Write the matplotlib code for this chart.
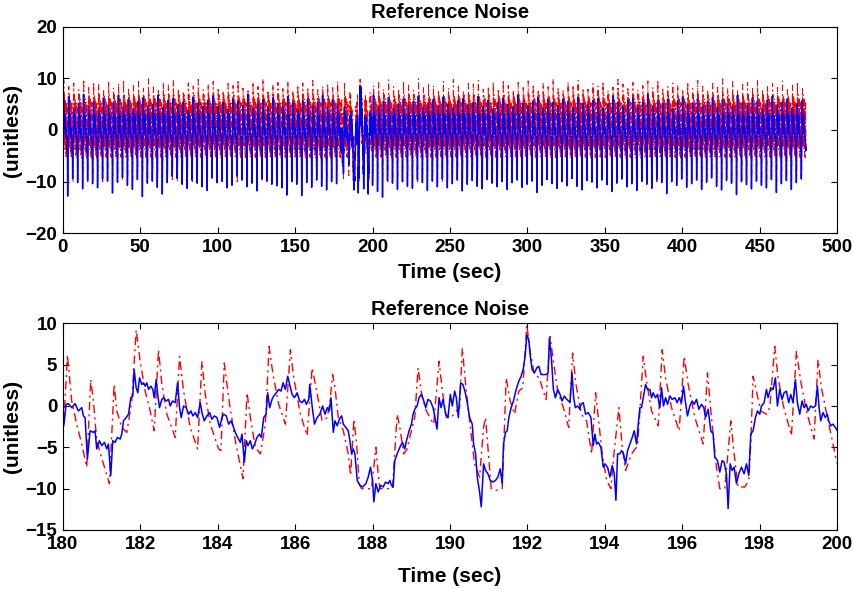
import numpy as np
import matplotlib
matplotlib.use('Agg')
import matplotlib.pyplot as plt

plt.rcParams['font.family'] = ['Liberation Sans', 'DejaVu Sans']
plt.rcParams['font.weight'] = 'bold'

# ---------------- zoomed window (180-200 s) : values ----------------
zoom_blue_t = [180.000, 180.034, 180.086, 180.147, 180.233, 180.319, 180.405, 180.491, 180.534, 180.578,
               180.638, 180.707, 180.793, 180.836, 180.879, 180.948, 181.009, 181.078, 181.138, 181.181,
               181.241, 181.293, 181.353, 181.414, 181.483, 181.526, 181.569, 181.638, 181.698, 181.759,
               181.810, 181.845, 181.897, 181.940, 181.983, 182.043, 182.086, 182.129, 182.172, 182.216,
               182.276, 182.328, 182.362, 182.414, 182.457, 182.500, 182.560, 182.603, 182.672, 182.733,
               182.776, 182.836, 182.905, 182.966, 183.017, 183.060, 183.121, 183.190, 183.250, 183.310,
               183.362, 183.422, 183.483, 183.552, 183.595, 183.655, 183.724, 183.793, 183.853, 183.914,
               183.983, 184.052, 184.112, 184.155, 184.224, 184.284, 184.345, 184.397, 184.457, 184.517,
               184.586, 184.629, 184.690, 184.741, 184.784, 184.845, 184.897, 184.957, 185.017, 185.078,
               185.129, 185.190, 185.250, 185.293, 185.345, 185.405, 185.448, 185.517, 185.578, 185.638,
               185.690, 185.750, 185.810, 185.862, 185.922, 185.983, 186.052, 186.121, 186.181, 186.241,
               186.293, 186.353, 186.379, 186.440, 186.500, 186.569, 186.638,
               186.712, 186.773, 186.833, 186.884, 186.927, 186.987, 187.030, 187.090, 187.142, 187.202,
               187.245, 187.313, 187.373, 187.416, 187.459, 187.502, 187.545, 187.605, 187.674, 187.742,
               187.828, 187.888, 187.948, 188.000, 188.034, 188.086, 188.146, 188.206, 188.275, 188.335,
               188.403, 188.446, 188.489, 188.532, 188.575, 188.635, 188.704, 188.773, 188.833, 188.876,
               188.944, 189.004, 189.047, 189.090, 189.150, 189.202, 189.262, 189.322, 189.373, 189.433,
               189.494, 189.562, 189.605, 189.665, 189.717, 189.768, 189.820, 189.888, 189.948, 190.009,
               190.060, 190.120, 190.163, 190.215, 190.275, 190.335, 190.395, 190.446, 190.506, 190.575,
               190.609, 190.661, 190.704, 190.764, 190.807, 190.867, 190.918, 190.979, 191.039, 191.107,
               191.176, 191.236, 191.296, 191.348, 191.382, 191.433, 191.476, 191.519, 191.579, 191.639,
               191.708, 191.777, 191.837, 191.897, 191.948, 191.983, 192.034, 192.069, 192.120, 192.180,
               192.240, 192.292, 192.352, 192.412, 192.481, 192.532, 192.567, 192.618, 192.670, 192.721,
               192.781, 192.841, 192.893, 192.953, 193.013, 193.064, 193.099, 193.150, 193.193, 193.236,
               193.296, 193.356,
               193.381, 193.441, 193.501, 193.570, 193.639, 193.699, 193.742, 193.785, 193.828, 193.897,
               193.957, 194.000, 194.069, 194.129, 194.189, 194.241, 194.284, 194.327, 194.378, 194.430,
               194.482, 194.533, 194.585, 194.645, 194.705, 194.757, 194.817, 194.860, 194.903, 194.946,
               194.989, 195.049, 195.101, 195.161, 195.204, 195.247, 195.307, 195.359, 195.419, 195.462,
               195.513, 195.565, 195.617, 195.677, 195.737, 195.806, 195.866, 195.917, 195.978, 196.029,
               196.081, 196.132, 196.193, 196.253, 196.304, 196.365, 196.425, 196.494, 196.554, 196.597,
               196.666, 196.734, 196.794, 196.837, 196.906, 196.966, 197.027, 197.078, 197.138, 197.181,
               197.233, 197.285, 197.336, 197.396, 197.457, 197.525, 197.594, 197.654, 197.714, 197.766,
               197.826, 197.886, 197.938, 197.998, 198.041, 198.110, 198.170, 198.213, 198.282, 198.342,
               198.402, 198.454, 198.514, 198.574, 198.626, 198.686, 198.746, 198.798, 198.858, 198.918,
               198.970, 199.030, 199.090, 199.142, 199.202, 199.245, 199.314, 199.374, 199.434, 199.486,
               199.529, 199.572, 199.632, 199.692, 199.744, 199.778, 199.830, 199.890, 199.950, 200.002]
zoom_blue_v = [0.0, -2.2, 0.2, 0.28, -0.2, 0.28, -0.6, -0.2, -1.2, -1.4,
               -6.4, -3.0, -3.2, -3.0, -5.2, -4.2, -4.8, -4.4, -5.2, -4.6,
               -8.4, -4.2, -4.4, -3.8, -4.0, -3.4, -1.8, -1.4, -1.0, 1.0,
               1.2, 4.4, 2.2, 1.6, 3.4, 2.6, 2.8, 2.4, 2.8, 2.0,
               2.4, 2.0, 1.0, 3.2, 1.2, -0.2, 0.8, 1.0, 0.6, 0.8,
               0.0, 0.6, 0.4, 2.8, -0.2, -1.4, 0.0, -0.2, -1.0, -0.6,
               -1.2, -0.8, -1.4, 0.4, -0.8, -1.8, -1.2, -0.8, -1.6, -1.2,
               -1.4, -2.6, -1.4, -1.0, -1.2, -2.2, -1.8, -2.4, -3.2, -3.8,
               -4.4, -3.4, -6.8, -4.2, -4.8, -4.2, -5.2, -4.6, -3.8, -3.4,
               -3.8, -1.4, -1.0, 1.6, -0.2, 0.8, 1.2, 1.6, 2.0, 1.8,
               2.8, 2.0, 3.6, 2.6, 1.4, 1.0, 1.6, 0.6, 0.4, 0.8,
               0.2, 0.8, 2.6, 0.0, -2.2, -1.4, -1.0,
               0.0, -1.0, -0.2, -0.6, 1.0, -3.2, -1.8, -2.4, -1.6, -1.2,
               -2.2, -2.6, -3.0, -4.2, -5.8, -5.2, -5.8, -9.0, -9.6, -9.8,
               -9.4, -8.6, -7.4, -9.0, -11.6, -9.4, -10.4, -9.6, -9.8, -9.2,
               -9.4, -9.0, -9.6, -9.8, -6.6, -5.8, -5.0, -4.4, -5.2, -4.2,
               -3.0, -2.2, -1.0, -0.4, 0.0, 1.0, 1.4, 0.6, -0.2, 0.8,
               0.6, -0.2, -1.2, -2.8, 1.0, -0.2, 0.8, -1.0, -1.4, 1.4,
               0.0, 1.8, 1.0, -1.4, 2.8, 2.6, 1.6, 0.4, -1.4, -2.2,
               -4.6, -5.8, -8.6, -10.4, -12.2, -7.0, -7.8, -8.2, -9.0, -9.2,
               -9.0, -8.6, -7.6, -9.4, -4.6, -3.2, -3.0, -1.4, -0.2, 0.6,
               2.0, 3.0, 3.6, 4.6, 6.4, 8.6, 8.0, 6.2, 4.4, 4.0,
               4.6, 4.8, 3.8, 3.8, 3.8, 4.0, 8.2, 5.8, 2.0, 1.0,
               2.0, 1.4, 0.6, 1.2, 0.8, 0.6, 0.4, 4.0, 1.0, -0.2,
               0.0, -0.4,
               0.2, 0.4, -1.0, -0.8, -1.4, -4.8, -3.4, -4.6, -4.4, -5.0,
               -7.4, -7.0, -7.4, -8.6, -7.2, -8.2, -11.4, -5.8, -5.8, -5.4,
               -5.8, -7.0, -5.4, -4.6, -3.8, -3.0, -4.6, -2.2, -0.2, -0.2,
               1.0, 2.6, 2.0, 2.0, 1.0, 1.6, 1.0, 1.4, -0.2, 2.2,
               0.0, 1.0, 0.2, 1.2, 0.8, 1.0, 0.4, 1.0, 0.4, 2.4,
               0.4, -1.2, 0.0, 0.6, 0.2, 0.8, -0.4, 0.2, -0.2, -1.4,
               -0.4, -3.0, -3.4, -6.2, -6.6, -8.0, -6.6, -6.8, -8.2, -12.4,
               -7.0, -7.8, -7.4, -9.4, -8.2, -7.4, -8.2, -7.0, -8.4, -3.4,
               -3.0, -1.4, -0.6, -1.0, 0.0, 0.4, 2.0, 1.0, 2.2, 2.0,
               3.4, 0.0, 2.0, 0.8, 1.6, 1.8, 0.4, 1.4, 0.4, 3.2,
               0.4, -1.0, 0.6, -0.2, 0.2, -0.6, 0.0, -0.2, 0.0, 2.4,
               -0.2, -1.8, -0.8, -1.4, -1.0, -1.8, -2.4, -2.2, -2.6, -3.0]

zoom_red_t = [180.000, 180.121, 180.233, 180.362, 180.491, 180.621, 180.724, 180.793, 180.879, 181.052,
              181.207, 181.328, 181.397, 181.526, 181.655, 181.784, 181.897, 182.000, 182.129, 182.259,
              182.362, 182.474, 182.560, 182.690, 182.905, 183.017, 183.121, 183.293, 183.483, 183.595,
              183.681, 183.810, 184.026, 184.086, 184.172, 184.284, 184.457, 184.655, 184.759, 184.845,
              184.974, 185.103, 185.233, 185.328, 185.431, 185.578, 185.750, 185.879, 185.966, 186.138,
              186.310, 186.440, 186.526, 186.698,
              186.833, 186.901, 186.970, 187.030, 187.116, 187.245, 187.373, 187.433, 187.519, 187.588,
              187.657, 187.717, 187.845, 187.974, 188.086, 188.146, 188.189, 188.361, 188.515, 188.635,
              188.704, 188.807, 188.893, 188.961, 189.090, 189.176, 189.262, 189.373, 189.476, 189.579,
              189.717, 189.803, 189.906, 190.034, 190.163, 190.249, 190.318, 190.403, 190.506, 190.635,
              190.764, 190.867, 190.918, 190.979, 191.064, 191.193, 191.348, 191.451, 191.554, 191.665,
              191.777, 191.880, 191.983, 192.069, 192.180, 192.309, 192.395, 192.481, 192.584, 192.670,
              192.781, 192.927, 193.064, 193.167, 193.253, 193.391,
              193.527, 193.656, 193.759, 193.828, 193.931, 194.043, 194.155, 194.241, 194.361, 194.447,
              194.533, 194.688, 194.843, 194.903, 194.989, 195.075, 195.204, 195.376, 195.479, 195.565,
              195.720, 195.917, 196.046, 196.150, 196.322, 196.537, 196.648, 196.751, 196.880, 196.966,
              197.095, 197.250, 197.336, 197.439, 197.611, 197.714, 197.766, 197.826, 197.912, 198.024,
              198.170, 198.256, 198.385, 198.471, 198.600, 198.815, 198.944, 199.056, 199.202, 199.400,
              199.503, 199.589, 199.744, 199.890, 199.976, 200.050]
zoom_red_v = [-4.8, 6.2, 0.6, -2.2, -4.6, -7.4, 3.2, 0.6, -4.2, -7.0,
              -9.4, 2.6, -0.6, -2.6, -3.2, 0.6, 9.2, 5.4, 1.8, -0.6,
              -3.0, 6.8, 2.6, -1.0, -3.8, 6.0, 1.8, -2.6, -5.2, 5.4,
              1.4, -2.2, -5.2, -5.4, 5.2, 1.0, -4.2, -8.8, 1.6, -1.4,
              -5.0, -5.8, -2.2, 7.2, 3.8, 0.2, -2.2, 6.8, 3.4, -1.0,
              -3.6, 4.6, 2.6, -1.8,
              -1.4, 0.6, 3.8, 2.2, -1.4, -3.0, -5.8, -8.4, -1.6, -4.6,
              -9.4, -10.0, -10.0, -10.0, -5.0, -8.2, -10.0, -10.0, -10.0, -1.0,
              -2.6, -5.8, -5.2, -3.8, -1.4, 4.6, 1.6, -0.4, -1.4, -2.2,
              5.4, 1.8, -1.4, -1.4, -0.6, -0.2, 7.0, 2.6, -1.8, -7.0,
              -8.6, -2.6, -1.4, -5.0, -10.0, -10.2, -10.0, 3.4, 0.6, -1.0,
              1.8, 2.2, 9.8, 6.6, 3.8, 3.4, 2.0, 0.8, 8.4, 5.4,
              1.8, -0.2, -2.6, 6.4, 2.6, -1.0,
              -1.8, -5.8, 1.6, -1.4, -5.8, -9.0, -10.0, -5.4, -0.2, -5.0,
              -7.8, -5.8, -4.8, -0.6, 6.0, 3.0, -0.6, -2.4, 6.8, 3.4,
              -0.2, -3.0, 6.0, 2.6, -1.4, -4.6, 4.0, -1.4, -7.4, -10.0,
              -10.0, -1.8, -5.8, -9.8, -9.8, -9.0, -4.6, 3.6, 1.8, -0.6,
              -1.0, -0.2, 7.2, 3.4, 0.2, -3.6, 6.6, 3.0, -0.6, -4.0,
              5.6, 2.2, -1.4, -4.6, -6.6, -7.5]

# ---------------- full record (0-480 s): per-cycle extremes ----------------
# first 56 cycles cover 0-180 s, remaining 87 cycles cover 200-480 s
top_blue_lo = [-8.6, -12.8, -9.4, -10.2, -11.4, -9.7, -10.4, -11.2, -9.5, -9.9,
               -12.2, -10.1, -9.2, -10.7, -11.5, -9.6, -12.9, -10.3, -9.9, -11.1,
               -12.4, -10.2, -9.0, -9.4, -10.5, -11.3, -9.7, -10.3, -11.0, -11.7,
               -9.3, -10.2, -9.9, -11.2, -10.7, -8.9, -9.7, -11.0, -10.3, -11.8,
               -9.5, -9.9, -10.5, -10.8, -11.2, -12.6, -10.0, -10.5, -12.7, -10.2,
               -11.1, -9.7, -10.9, -11.6, -10.0, -10.4,
               -10.7, -11.9, -13.0, -9.8, -10.3, -11.5, -10.0, -10.9, -11.3, -9.6,
               -10.2, -11.7, -9.9, -11.0, -9.5, -11.2, -10.4, -9.7, -11.8, -10.5,
               -9.8, -10.9, -11.4, -9.6, -10.3, -11.0, -10.0, -11.5, -10.2, -9.7,
               -11.1, -10.5, -9.9, -12.1, -10.7, -9.6, -10.4, -11.3, -10.0, -10.8,
               -9.4, -10.9, -11.6, -9.8, -10.1, -11.2, -9.7, -10.6, -11.9, -10.3,
               -9.5, -11.0, -10.4, -11.7, -9.9, -10.5, -11.3, -9.6, -10.2, -12.3,
               -10.0, -10.7, -9.5, -11.1, -10.4, -9.7, -11.5, -10.1, -9.3, -10.9,
               -11.6, -9.8, -10.3, -12.5, -10.0, -10.6, -11.4, -9.9, -10.7, -11.2,
               -9.6, -12.1, -10.4, -9.8, -11.5, -10.2, -9.5]
top_blue_hi = [5.8, 6.5, 4.2, 5.1, 6.9, 4.6, 5.5, 3.9, 6.2, 4.8,
               5.3, 6.7, 4.4, 5.9, 4.1, 5.6, 6.3, 4.7, 5.0, 6.8,
               4.3, 5.7, 6.1, 4.9, 5.4, 3.8, 6.4, 5.2, 4.6, 5.8,
               6.6, 4.5, 5.3, 4.0, 6.0, 5.5, 4.8, 6.9, 4.2, 5.1,
               5.9, 4.4, 6.2, 5.0, 4.7, 6.5, 5.3, 4.1, 5.7, 6.0,
               4.6, 5.4, 6.7, 4.3, 5.8, 5.0,
               6.8, 4.5, 5.6, 6.3, 4.2, 5.1, 6.0, 4.8, 5.5, 6.6,
               4.4, 5.2, 5.9, 4.7, 6.4, 5.0, 4.3, 5.7, 6.1, 4.9,
               5.3, 6.5, 4.6, 5.8, 4.1, 5.4, 6.2, 5.0, 4.5, 6.8,
               5.1, 4.8, 5.6, 6.3, 4.2, 5.9, 5.3, 4.7, 6.0, 5.5,
               4.4, 6.4, 5.2, 4.9, 5.7, 6.1, 4.3, 5.0, 6.6, 5.4,
               4.6, 5.8, 6.2, 4.8, 5.3, 6.9, 4.5, 5.6, 5.1, 6.0,
               4.2, 5.7, 6.4, 4.9, 5.2, 6.1, 4.7, 5.5, 6.3, 4.4,
               5.9, 5.0, 4.6, 6.7, 5.3, 4.8, 6.2, 5.6, 4.1, 5.8,
               6.5, 4.9, 5.4, 6.0, 4.3, 5.1, 5.7]
top_red_hi = [9.6, 8.4, 9.1, 7.8, 9.8, 8.2, 9.3, 8.8, 7.6, 9.5,
              8.1, 9.0, 9.7, 7.9, 8.6, 9.4, 8.0, 9.9, 8.3, 7.7,
              9.2, 8.7, 9.6, 8.0, 7.5, 9.1, 8.5, 9.8, 7.8, 8.9,
              9.4, 8.2, 7.6, 9.0, 8.6, 9.7, 8.1, 7.9, 9.3, 8.4,
              9.9, 7.7, 8.8, 9.2, 8.0, 9.5, 7.6, 8.7, 9.1, 8.3,
              9.6, 7.8, 8.5, 9.0, 8.2, 9.4,
              8.6, 9.2, 7.9, 9.7, 8.4, 8.0, 9.5, 8.7, 7.7, 9.9,
              8.3, 9.1, 8.6, 7.8, 9.4, 8.1, 9.8, 8.5, 7.6, 9.0,
              8.9, 9.6, 7.9, 8.4, 9.3, 8.0, 9.7, 8.6, 7.7, 9.2,
              8.2, 9.5, 8.8, 7.8, 9.1, 8.4, 9.9, 8.0, 7.6, 9.3,
              8.7, 9.6, 8.1, 7.9, 9.0, 8.5, 9.4, 7.7, 8.3, 9.8,
              8.9, 8.0, 9.2, 7.8, 8.6, 9.5, 8.2, 9.7, 7.9, 8.4,
              9.1, 8.7, 7.6, 9.3, 8.0, 9.6, 8.5, 7.8, 9.0, 8.3,
              9.9, 8.1, 9.4, 7.7, 8.8, 9.2, 8.4, 9.7, 7.9, 8.6,
              9.0, 8.2, 9.5, 7.8, 8.7, 9.3, 8.0]
top_red_lo = [-9.2, -9.8, -10.0, -9.5, -8.8, -10.0, -9.6, -9.1, -10.0, -9.4,
              -8.9, -10.0, -9.7, -9.3, -10.0, -8.7, -9.8, -10.0, -9.2, -9.5,
              -10.0, -9.0, -9.6, -10.0, -8.8, -9.4, -10.0, -9.7, -9.1, -10.0,
              -9.3, -8.9, -10.0, -9.6, -9.8, -10.0, -9.2, -8.6, -10.0, -9.5,
              -9.9, -10.0, -9.0, -9.4, -10.0, -9.7, -8.8, -10.0, -9.3, -9.6,
              -10.0, -9.1, -9.8, -10.0, -9.4, -9.0,
              -10.0, -9.5, -9.1, -10.0, -9.7, -8.9, -10.0, -9.3, -9.6, -10.0,
              -9.2, -8.8, -10.0, -9.5, -9.9, -10.0, -9.0, -9.4, -10.0, -9.7,
              -8.7, -10.0, -9.3, -9.6, -10.0, -9.1, -9.8, -10.0, -8.9, -9.4,
              -10.0, -9.6, -9.2, -10.0, -9.5, -8.8, -10.0, -9.7, -9.0, -10.0,
              -9.3, -9.9, -10.0, -8.6, -9.4, -10.0, -9.6, -9.1, -10.0, -9.8,
              -9.2, -10.0, -8.9, -9.5, -10.0, -9.7, -9.0, -10.0, -9.3, -9.6,
              -10.0, -8.8, -9.4, -10.0, -9.8, -9.1, -10.0, -9.5, -8.7, -10.0,
              -9.6, -9.2, -10.0, -9.4, -9.9, -10.0, -9.0, -9.5, -10.0, -9.7,
              -8.9, -10.0, -9.3, -9.6, -10.0, -9.1, -9.4]

# typical within-cycle values (read from one cycle of the zoomed window); 'lo'/'hi' take the per-cycle extremes
blue_cycle_vals = ['lo', -4.0, -1.5, 'hi', 1.6, 3.0, 2.0, 3.2, 0.2, 2.8, -0.8, 0.4, -1.5, -1.2, -2.6, -4.0, -3.4]
red_cycle_vals = ['lo', 'lo', 2.6, -3.2, 'hi', -3.0, 6.8, -3.8, 6.0, -5.2, 5.4, -5.4, 5.2, -4.2]

# positions inside a cycle (fraction of the cycle length)
blue_cycle_pos = [0.00, 0.06, 0.13, 0.18, 0.22, 0.26, 0.32, 0.36, 0.40, 0.48, 0.55, 0.62, 0.70, 0.78, 0.85, 0.90, 0.95]
red_cycle_pos = [0.00, 0.06, 0.10, 0.16, 0.22, 0.34, 0.37, 0.49, 0.53, 0.66, 0.69, 0.82, 0.86, 0.94]

segments = [(0.0, 180.0, 0, 56), (200.0, 480.0, 56, 143)]


def build(vals, pos, lo, hi, seg):
    t0, t1, i0, i1 = seg
    n = i1 - i0
    starts = np.linspace(t0, t1, n + 1)[:-1]
    period = (t1 - t0) / n
    ts, vs = [], []
    for k, s in enumerate(starts):
        i = i0 + k
        for p, v in zip(pos, vals):
            ts.append(s + p * period)
            vs.append(lo[i] if v == 'lo' else (hi[i] if v == 'hi' else v))
    return ts, vs


bt_a, bv_a = build(blue_cycle_vals, blue_cycle_pos, top_blue_lo, top_blue_hi, segments[0])
bt_b, bv_b = build(blue_cycle_vals, blue_cycle_pos, top_blue_lo, top_blue_hi, segments[1])
rt_a, rv_a = build(red_cycle_vals, red_cycle_pos, top_red_lo, top_red_hi, segments[0])
rt_b, rv_b = build(red_cycle_vals, red_cycle_pos, top_red_lo, top_red_hi, segments[1])

zbt = np.array(zoom_blue_t); zbv = np.array(zoom_blue_v)
zrt = np.array(zoom_red_t); zrv = np.array(zoom_red_v)
mb = zbt <= 200.0
mr = zrt <= 200.0
top_blue_t = np.concatenate([bt_a, zbt[mb], bt_b])
top_blue_v = np.concatenate([bv_a, zbv[mb], bv_b])
top_red_t = np.concatenate([rt_a, zrt[mr], rt_b])
top_red_v = np.concatenate([rv_a, zrv[mr], rv_b])

# ---------------- figure ----------------
W, H = 854, 589
fig = plt.figure(figsize=(W / 100, H / 100), dpi=100)
L = 62.7 / W
AW = (837.3 - 62.7) / W
ax1 = fig.add_axes([L, (H - 233.3) / H, AW, 206.6 / H])
ax2 = fig.add_axes([L, (H - 530.0) / H, AW, 206.7 / H])

red_style = dict(color=(1, 0, 0), linestyle=(0, (6, 3, 1.5, 3)))

ax1.plot(top_red_t, top_red_v, lw=0.75, **red_style)
ax1.plot(top_blue_t, top_blue_v, color=(0, 0, 1), lw=1.05)
ax1.set_xlim(0, 500)
ax1.set_ylim(-20, 20)
ax1.set_xticks(np.arange(0, 501, 50))
ax1.set_yticks(np.arange(-20, 21, 10))

ax2.plot(zoom_red_t, zoom_red_v, lw=1.0, **red_style)
ax2.plot(zoom_blue_t, zoom_blue_v, color=(0, 0, 1), lw=1.1)
ax2.set_xlim(180, 200)
ax2.set_ylim(-15, 10)
ax2.set_xticks(np.arange(180, 201, 2))
ax2.set_yticks(np.arange(-15, 11, 5))

for ax in (ax1, ax2):
    ax.tick_params(direction='in', top=True, right=True, length=4, width=0.8,
                   labelsize=13.5, pad=4)
    for sp in ax.spines.values():
        sp.set_linewidth(0.8)
    ax.set_title('Reference Noise', fontsize=14.5, fontweight='bold', pad=6)
    ax.set_xlabel('Time (sec)', fontsize=15, fontweight='bold')
    ax.set_ylabel('(unitless)', fontsize=15, fontweight='bold')
    ax.yaxis.set_label_coords(-0.052, 0.5)
    ax.xaxis.label.set_va('center')

ax1.xaxis.set_label_coords(0.5, (233.3 - 273) / 206.6)
ax2.xaxis.set_label_coords(0.5, (530.0 - 576) / 206.7)

fig.savefig('out.png', dpi=100)
